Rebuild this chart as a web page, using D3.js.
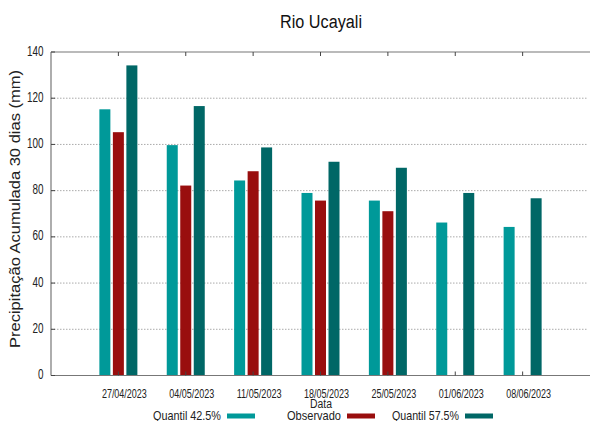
<!DOCTYPE html>
<html><head><meta charset="utf-8">
<script src="https://cdn.jsdelivr.net/npm/d3@7"></script>
<style>body{margin:0;background:#fff}svg{display:block;font-family:"Liberation Sans Narrow","Liberation Sans",Arial,sans-serif}</style>
</head><body><svg id="c" width="590" height="421"></svg>
<script>
const categories = ["27/04/2023","04/05/2023","11/05/2023","18/05/2023","25/05/2023","01/06/2023","08/06/2023"];
const q425 = [115.2, 99.7, 84.4, 79.0, 75.7, 66.2, 64.3];
const observado = [105.3, 82.2, 88.4, 75.7, 71.1, null, null];
const q575 = [134.2, 116.6, 98.7, 92.5, 89.9, 79.0, 76.7];
const seriesNames = ["Quantil 42.5%", "Observado", "Quantil 57.5%"];
const colors = ["#009999", "#990e0e", "#006766"];
const yTicks = [0,20,40,60,80,100,120,140];

const svg = d3.select("#c");
const L = 51, R = 590, T = 52, B = 375.5;
const x = d3.scaleLinear().domain([0, categories.length + 1]).range([L, R]);
const y = d3.scaleLinear().domain([0, 140]).range([B, T]);

// grid
svg.append("g").selectAll("line").data(yTicks.filter(v => v > 0 && v < 140)).join("line")
  .attr("x1", L).attr("x2", 588).attr("y1", d => y(d)).attr("y2", d => y(d))
  .attr("stroke", "#aaa").attr("stroke-width", 1).attr("stroke-dasharray", "1.5,1.5");

// bars
const data = [q425, observado, q575];
const bw = 11, step = 13.5;
data.forEach((arr, si) => {
  svg.append("g").selectAll("rect").data(arr.map((v,i)=>({v,i})).filter(d => d.v != null)).join("rect")
    .attr("x", d => x(d.i + 1) + (si - 1) * step - bw / 2)
    .attr("width", bw)
    .attr("y", d => y(d.v))
    .attr("height", d => y(0) - y(d.v))
    .attr("fill", colors[si]);
});

// axes frame
const ax = svg.append("g").attr("stroke", "#777").attr("stroke-width", 1.2).attr("fill", "none");
ax.append("line").attr("x1", L).attr("x2", L).attr("y1", T).attr("y2", B);
ax.append("line").attr("x1", L).attr("x2", R).attr("y1", B).attr("y2", B);
ax.append("line").attr("x1", L).attr("x2", R).attr("y1", T).attr("y2", T);

// x ticks top and bottom
svg.append("g").selectAll("line").data(categories).join("line")
  .attr("x1", (d,i) => x(i+1)).attr("x2", (d,i) => x(i+1)).attr("y1", T).attr("y2", T + 4)
  .attr("stroke", "#444").attr("stroke-width", 1);
svg.append("g").selectAll("line").data(categories).join("line")
  .attr("x1", (d,i) => x(i+1)).attr("x2", (d,i) => x(i+1)).attr("y1", B - 4).attr("y2", B)
  .attr("stroke", "#444").attr("stroke-width", 1);
// y ticks
svg.append("g").selectAll("line").data(yTicks).join("line")
  .attr("x1", L).attr("x2", L + 4).attr("y1", d => y(d)).attr("y2", d => y(d))
  .attr("stroke", "#444");

function fit(sel, len) {
  return sel.attr("textLength", len).attr("lengthAdjust", "spacingAndGlyphs");
}

// y labels
fit(svg.append("g").selectAll("text").data(yTicks).join("text")
  .attr("x", 43.5).attr("y", d => y(d) + 3.5).attr("text-anchor", "end")
  .attr("font-size", 14).attr("fill", "#222").text(d => d), d => String(d).length * 5.5);

// x labels
fit(svg.append("g").selectAll("text").data(categories).join("text")
  .attr("x", (d,i) => x(i+1) + 6).attr("y", 398).attr("text-anchor", "middle")
  .attr("font-size", 12.5).attr("fill", "#222").text(d => d), 45);

// titles
fit(svg.append("text").attr("x", 321).attr("y", 28).attr("text-anchor", "middle")
  .attr("font-size", 18).attr("fill", "#111").text("Rio Ucayali"), 82);
fit(svg.append("text").attr("x", 321).attr("y", 408).attr("text-anchor", "middle")
  .attr("font-size", 12.5).attr("fill", "#222").text("Data"), 22);
fit(svg.append("text").attr("transform", `translate(20,209) rotate(-90)`)
  .attr("text-anchor", "middle").attr("font-size", 14).attr("fill", "#222")
  .text("Precipitação Acumulada 30 dias (mm)"), 278);

// legend
const legEnd = [221, 341, 459];
const legLen = [68, 54, 67];
seriesNames.forEach((n, i) => {
  fit(svg.append("text").attr("x", legEnd[i]).attr("y", 419.5).attr("text-anchor", "end")
    .attr("font-size", 13).attr("fill", "#222").text(n), legLen[i]);
  svg.append("rect").attr("x", legEnd[i] + 6).attr("y", 413.5).attr("width", 28).attr("height", 5)
    .attr("fill", colors[i]);
});
</script></body></html>
